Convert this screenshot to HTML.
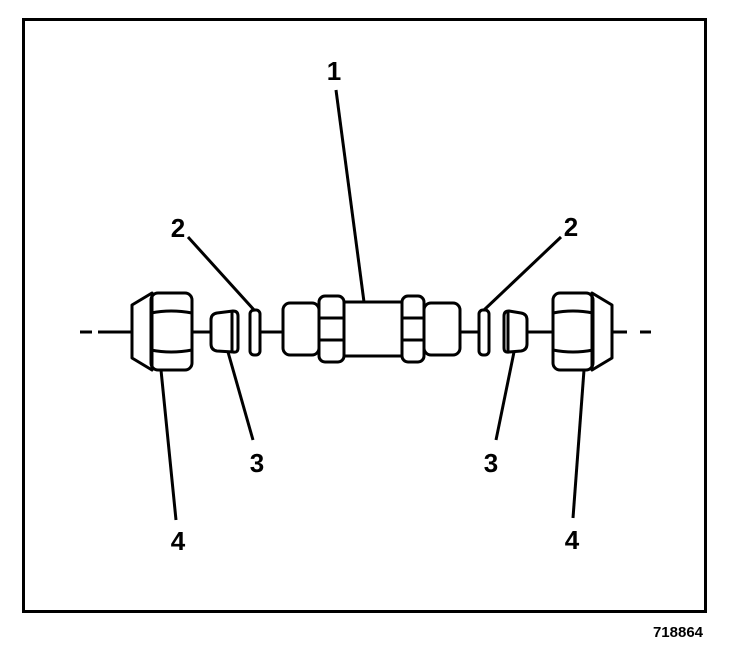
<!DOCTYPE html>
<html><head><style>html,body{margin:0;padding:0;background:#fff}svg{display:block}</style></head><body>
<svg width="752" height="650" viewBox="0 0 752 650" xmlns="http://www.w3.org/2000/svg">
<rect x="23.5" y="19.5" width="682" height="592" fill="none" stroke="#000" stroke-width="3"/>
<g stroke="#000" stroke-width="3" fill="none" stroke-linejoin="round">
<line x1="80" y1="332" x2="92" y2="332"/>
<line x1="98" y1="332" x2="131" y2="332"/>
<line x1="192" y1="332" x2="211" y2="332"/>
<line x1="260" y1="332" x2="283" y2="332"/>
<line x1="460" y1="332" x2="479" y2="332"/>
<line x1="527" y1="332" x2="553" y2="332"/>
<line x1="612" y1="332" x2="627" y2="332"/>
<line x1="640" y1="332" x2="651" y2="332"/>
<path d="M152,293 L132,305 L132,358 L152,370 Z"/>
<rect x="151" y="293" width="41" height="77" rx="7"/>
<path d="M151,313 Q171,309 192,313 M151,350 Q171,354 192,350"/>
<path d="M217,313 L233,311 Q238,311 238,316 L238,348 Q238,353 233,352 L217,351 Q211,350 211,344 L211,320 Q211,314 217,313 Z"/>
<line x1="232" y1="312" x2="232" y2="352"/>
<rect x="250" y="310" width="10" height="45" rx="4"/>
<rect x="283" y="303" width="36" height="52" rx="7"/>
<rect x="319" y="296" width="25" height="66" rx="6"/>
<path d="M319,318 H344 M319,340 H344"/>
<line x1="344" y1="302" x2="402" y2="302"/>
<line x1="344" y1="356" x2="402" y2="356"/>
<rect x="402" y="296" width="22" height="66" rx="6"/>
<path d="M402,318 H424 M402,340 H424"/>
<rect x="424" y="303" width="36" height="52" rx="7"/>
<rect x="479" y="310" width="10" height="45" rx="4"/>
<path d="M509,311 L521,313 Q527,314 527,320 L527,344 Q527,350 521,351 L509,352 Q504,353 504,348 L504,316 Q504,311 509,311 Z"/>
<line x1="508" y1="312" x2="508" y2="352"/>
<path d="M592,293 L612,305 L612,358 L592,370 Z"/>
<rect x="553" y="293" width="40" height="77" rx="7"/>
<path d="M553,313 Q573,309 593,313 M553,350 Q573,354 593,350"/>
<line x1="336" y1="90" x2="364" y2="302"/>
<line x1="188" y1="237" x2="255" y2="311"/>
<line x1="561" y1="237" x2="484" y2="310"/>
<line x1="228" y1="352" x2="253" y2="440"/>
<line x1="514" y1="352" x2="496" y2="440"/>
<line x1="161" y1="370" x2="176" y2="520"/>
<line x1="584" y1="370" x2="573" y2="518"/>
</g>
<g font-family="Liberation Sans, sans-serif" font-weight="bold" font-size="26" fill="#000" text-anchor="middle">
<text x="334" y="80">1</text>
<text x="178" y="237">2</text>
<text x="571" y="236">2</text>
<text x="257" y="472">3</text>
<text x="491" y="472">3</text>
<text x="178" y="550">4</text>
<text x="572" y="549">4</text>
</g>
<text x="678" y="637" font-family="Liberation Sans, sans-serif" font-weight="bold" font-size="15" text-anchor="middle">718864</text>
</svg>
</body></html>
